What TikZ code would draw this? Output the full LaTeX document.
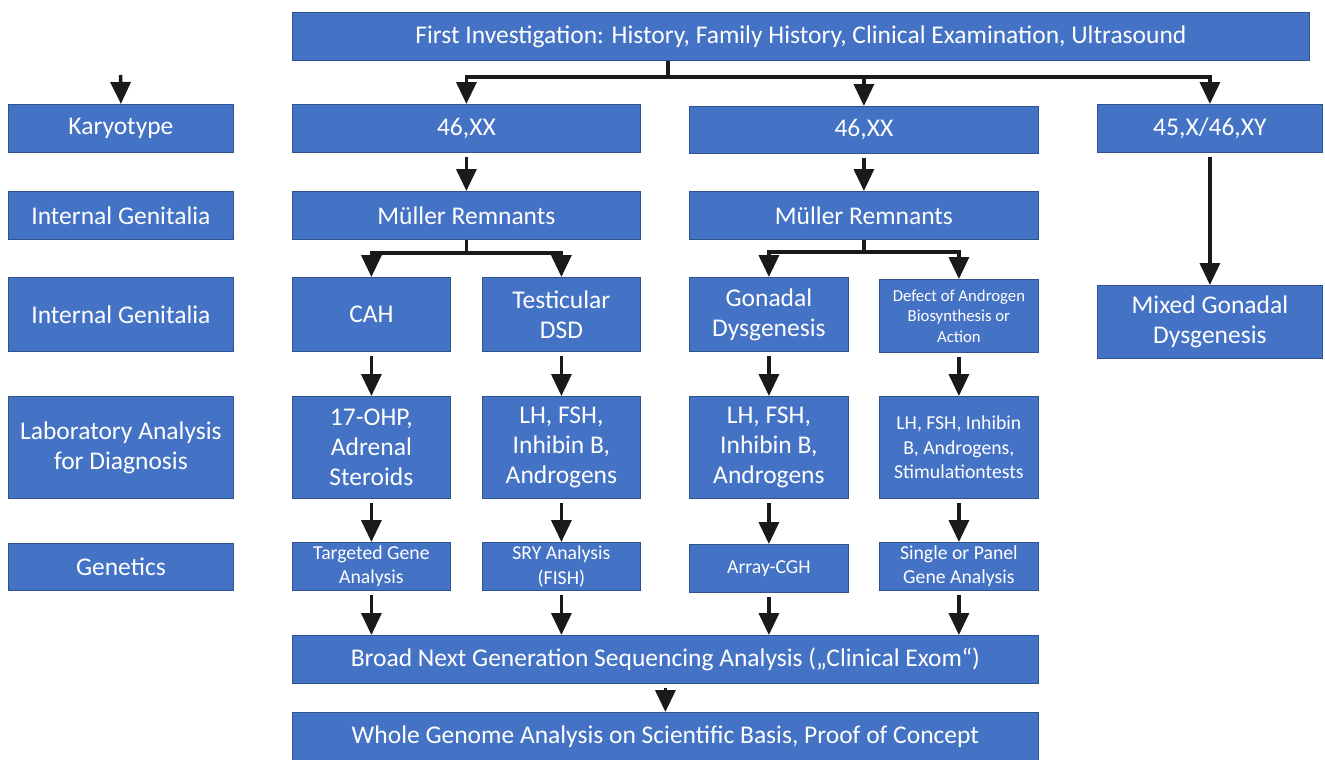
\documentclass[tikz,border=0pt]{standalone}
\usepackage{fontspec}
\setmainfont{Carlito}
\usetikzlibrary{arrows.meta,calc}
\definecolor{boxblue}{HTML}{4472C4}
\definecolor{boxedge}{HTML}{2F528F}
\definecolor{arrowc}{HTML}{1A1A1A}
\tikzset{
  box/.style={draw=boxedge, fill=boxblue, text=white, line width=0.8bp, inner sep=2bp,
    align=center, anchor=north west, font=\fontsize{25.6}{30}\selectfont},
  smalltxt/.style={font=\fontsize{19.8}{24.5}\selectfont},
  tinytxt/.style={font=\fontsize{16.8}{20.5}\selectfont},
  ln/.style={draw=arrowc, line width=3.5bp},
  arr/.style={ln, -{Triangle[width=20bp,length=22bp]}},
  gaparr/.style={arr, shorten <=4bp},
}
\begin{document}
\begin{tikzpicture}[x=1bp,y=-1bp]
\useasboundingbox (0,0) rectangle (1325,759);
% top
\node[box, minimum width=1017bp, minimum height=48bp] (top) at (292,12) {First Investigation: History, Family History, Clinical Examination, Ultrasound};
% row labels
\node[box, minimum width=225bp, minimum height=48bp] (kary) at (8,104) {Karyotype};
\node[box, minimum width=225bp, minimum height=48bp] (ig1) at (8,191) {Internal Genitalia};
\node[box, minimum width=225bp, minimum height=74bp] (ig2) at (8,277) {Internal Genitalia};
\node[box, minimum width=225bp, minimum height=102bp] (lab) at (8,396) {Laboratory Analysis\\for Diagnosis};
\node[box, minimum width=225bp, minimum height=47bp] (gen) at (8,543) {Genetics};
% karyotype row
\node[box, minimum width=348bp, minimum height=48bp] (k1) at (292,104) {46,XX};
\node[box, minimum width=349bp, minimum height=47bp] (k2) at (689,106) {46,XX};
\node[box, minimum width=225bp, minimum height=48bp] (k3) at (1097,104) {45,X/46,XY};
% mueller row
\node[box, minimum width=348bp, minimum height=48bp] (m1) at (292,191) {Müller Remnants};
\node[box, minimum width=349bp, minimum height=48bp] (m2) at (689,191) {Müller Remnants};
% diagnosis row
\node[box, minimum width=158bp, minimum height=74bp] (cah) at (292,277) {CAH};
\node[box, minimum width=158bp, minimum height=74bp] (tdsd) at (482,277) {Testicular\\DSD};
\node[box, minimum width=159bp, minimum height=74bp] (gd) at (689,277) {Gonadal\\Dysgenesis};
\node[box, tinytxt, minimum width=159bp, minimum height=73bp] (def) at (879,279) {Defect of Androgen\\Biosynthesis or\\Action};
\node[box, minimum width=225bp, minimum height=73bp] (mix) at (1097,285) {Mixed Gonadal\\Dysgenesis};
% laboratory row
\node[box, minimum width=158bp, minimum height=102bp] (l1) at (292,396) {17-OHP,\\Adrenal\\Steroids};
\node[box, minimum width=158bp, minimum height=102bp] (l2) at (482,396) {LH, FSH,\\Inhibin B,\\Androgens};
\node[box, minimum width=159bp, minimum height=102bp] (l3) at (689,396) {LH, FSH,\\Inhibin B,\\Androgens};
\node[box, smalltxt, minimum width=159bp, minimum height=102bp] (l4) at (879,396) {LH, FSH, Inhibin\\B, Androgens,\\Stimulationtests};
% genetics row
\node[box, smalltxt, minimum width=158bp, minimum height=48bp] (g1) at (292,542) {Targeted Gene\\Analysis};
\node[box, smalltxt, minimum width=158bp, minimum height=48bp] (g2) at (482,542) {SRY Analysis\\(FISH)};
\node[box, smalltxt, minimum width=159bp, minimum height=48bp] (g3) at (689,544) {Array-CGH};
\node[box, smalltxt, minimum width=159bp, minimum height=48bp] (g4) at (879,542) {Single or Panel\\Gene Analysis};
% bottom
\node[box, minimum width=746bp, minimum height=48bp] (ngs) at (292,635) {Broad Next Generation Sequencing Analysis („Clinical Exom“)};
\node[box, minimum width=746bp, minimum height=48bp] (wga) at (292,712) {Whole Genome Analysis on Scientific Basis, Proof of Concept};
% connectors
\coordinate (ts) at (668,77);
\coordinate (kin) at (120.5,75);
\draw[ln] (top.south -| ts) -- (ts);
\draw[arr] (ts) -| (k1.north);
\draw[arr] (ts) -| (k2.north);
\draw[arr] (ts) -| (k3.north);
\draw[arr] (kin) -- (kary.north);
\draw[gaparr] (k1.south) -- (m1.north);
\draw[gaparr] (k2.south) -- (m2.north);
\draw[gaparr] (k3.south) -- (mix.north);
\draw[arr] (m1.south) -- ++(0,13) -| (cah.north);
\draw[arr] (m1.south) -- ++(0,13) -| (tdsd.north);
\draw[arr] (m2.south) -- ++(0,12) -| (gd.north);
\draw[arr] (m2.south) -- ++(0,12) -| (def.north);
\draw[gaparr] (cah.south) -- (l1.north);
\draw[gaparr] (tdsd.south) -- (l2.north);
\draw[gaparr] (gd.south) -- (l3.north);
\draw[gaparr] (def.south) -- (l4.north);
\draw[gaparr] (l1.south) -- (g1.north);
\draw[gaparr] (l2.south) -- (g2.north);
\draw[gaparr] (l3.south) -- (g3.north);
\draw[gaparr] (l4.south) -- (g4.north);
\draw[gaparr] (g1.south) -- (g1.south |- ngs.north);
\draw[gaparr] (g2.south) -- (g2.south |- ngs.north);
\draw[gaparr] (g3.south) -- (g3.south |- ngs.north);
\draw[gaparr] (g4.south) -- (g4.south |- ngs.north);
\draw[gaparr] (ngs.south) -- (wga.north);
\end{tikzpicture}
\end{document}
